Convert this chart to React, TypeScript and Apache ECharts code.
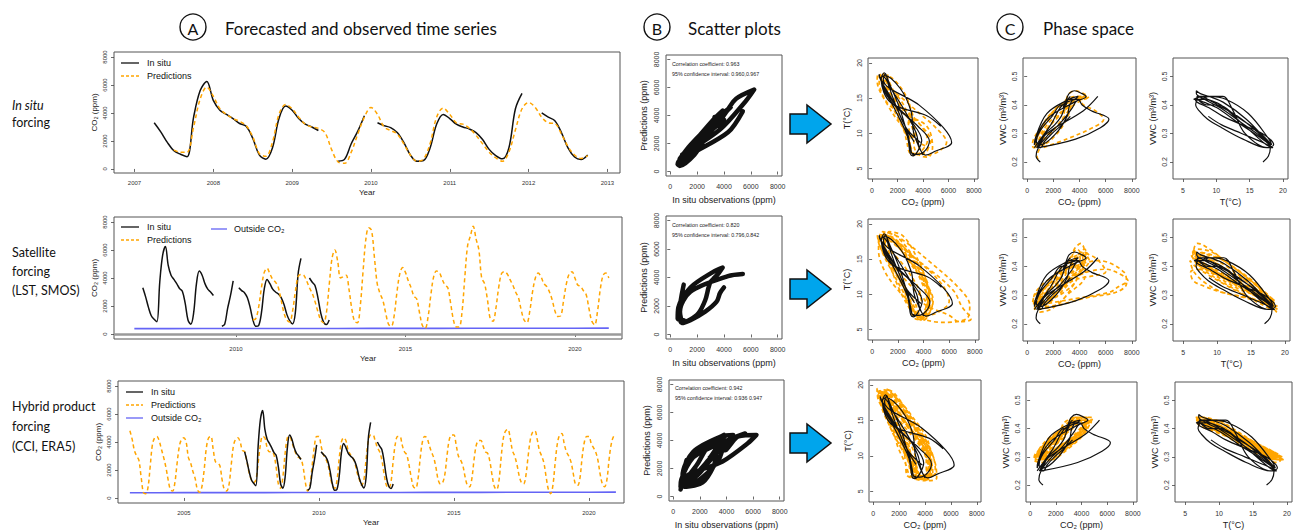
import React, { useEffect, useRef } from "react";
import * as echarts from "echarts";

// ---------- DATA (monthly, first of month) ----------
const INSITU_START = 2007.25; // April 2007
const SAT_START = 2010.5; // July 2010
const HYB_START = 2003.0; // January 2003

// In situ CO2 (ppm), Apr 2007 - Oct 2012 (null = gap)
const insituCO2 = [
  3300, 2650, 1900, 1300, 1050, 880, 3700, 5600, 6250,
  4900, 4200, 3900, 3600, 3250, 3050, 2200, 1000, 700, 1500, 3600, 4500,
  4200, 3600, 3200, 3000, 2750, null, null, 550, 700, 1800, 2700, 3800,
  null, 3300, 3100, 2950, 2600, 1900, 1000, 550, 600, 1500, 3200, 3900,
  3600, 3200, 3000, 2850, 2600, 2100, 1400, 950, 720, 1500, 4300, 5400,
  null, null, 4000, 3700, 3450, 2600, 1500, 850, 680, 1000,
];
// In situ soil temperature (deg C)
const insituT = [
  8.8, 10.8, 13.8, 16.8, 18.5, 17.6, 14.0, 10.8, 8.7,
  7.4, 6.9, 7.3, 8.4, 10.2, 13.2, 16.4, 18.2, 17.8, 14.5, 11.0, 8.9,
  7.6, 7.0, 7.0, 8.2, 10.6, 13.6, 16.6, 18.4, 17.5, 14.1, 10.7, 8.7,
  7.8, 7.1, 7.2, 8.6, 10.4, 13.0, 16.2, 18.3, 17.9, 14.8, 11.4, 9.0,
  7.5, 6.8, 7.1, 8.9, 11.0, 13.9, 16.9, 18.6, 17.7, 14.3, 12.5, 11.0,
  8.0, 6.6, 6.9, 8.1, 10.1, 13.1, 16.3, 18.1, 17.8, 17.0,
];
// In situ soil water content (m3/m3)
const insituVWC = [
  0.36, 0.33, 0.30, 0.27, 0.25, 0.25, 0.28, 0.32, 0.35,
  0.38, 0.40, 0.42, 0.42, 0.40, 0.36, 0.30, 0.26, 0.27, 0.35, 0.41, 0.43,
  0.44, 0.45, 0.44, 0.42, 0.39, 0.34, 0.29, 0.25, 0.26, 0.33, 0.40, 0.42,
  0.43, 0.43, 0.42, 0.40, 0.40, 0.36, 0.31, 0.26, 0.28, 0.37, 0.42, 0.43,
  0.42, 0.42, 0.41, 0.39, 0.36, 0.33, 0.30, 0.26, 0.25, 0.30, 0.38, 0.43,
  0.43, 0.42, 0.42, 0.41, 0.39, 0.34, 0.29, 0.25, 0.22, 0.20,
];
// Predictions with in situ forcing, Apr 2007 - Oct 2012
const predInSitu = [
  null, null, null, 1350, 1200, 1200, 3000, 5000, 5850,
  5200, 4300, 3900, 3600, 3400, 3100, 2300, 1100, 900, 1900, 3900, 4600,
  4300, 3700, 3200, 3000, 2900, 2600, 1400, 500, 400, 1200, 2500, 3700,
  4400, 3900, 3000, 2750, 2500, 1800, 1000, 550, 700, 1800, 3700, 4350,
  3900, 3300, 3200, 2900, 2400, 1800, 1200, 800, 550, 1200, 2800, 4300,
  4750, 4400, 3700, 3300, 3250, 2500, 1600, 1000, 750, 950,
];
// Predictions with satellite forcing (LST, SMOS), Jul 2010 - Jan 2021
const predSat = [
  1000, 1100, 1900, 3300, 4400, 4700,
  4300, 3900, 3700, 3300, 2400, 1500, 1000, 850, 1600, 3000, 4100, 4250,
  4200, 3800, 3300, 2900, 2300, 1600, 1000, 800, 1500, 3500, 5400, 6000,
  5200, 4000, 4100, 4200, 3200, 1800, 900, 800, 2000, 4500, 6800, 7600,
  7400, 5500, 3600, 2900, 2400, 1500, 700, 550, 1300, 3000, 4300, 4750,
  4400, 3800, 3300, 2700, 2500, 1500, 600, 400, 1200, 2800, 4100, 4500,
  4400, 3900, 3500, 3300, 2200, 1000, 500, 500, 1500, 4000, 6300, 7000,
  7700, 6800, 6000, 4000, 3600, 2500, 1100, 900, 1800, 3300, 4300, 4450,
  4300, 3900, 3500, 3000, 2600, 1700, 1000, 800, 1600, 3000, 4000, 4350,
  4100, 3600, 3400, 3000, 2400, 1600, 1250, 1300, 2400, 3600, 4300, 4450,
  4000, 3500, 3400, 3100, 2800, 1800, 900, 650, 1600, 3200, 4200, 4350,
  4000,
];
// Satellite land surface temperature (deg C), Jul 2010 - Jan 2021
const satT = [
  16.2, 18.0, 17.6, 14.4, 10.9, 8.7,
  6.8, 6.2, 6.9, 8.9, 11.2, 14.1, 17.0, 18.6, 17.9, 14.3, 11.2, 8.6,
  7.2, 6.4, 6.6, 8.0, 10.0, 13.0, 16.2, 18.4, 18.1, 14.9, 11.5, 9.0,
  7.5, 6.8, 7.2, 8.6, 10.8, 13.8, 16.9, 18.9, 18.2, 14.6, 10.8, 8.4,
  6.6, 6.0, 6.8, 8.4, 10.4, 13.4, 16.4, 18.0, 17.7, 14.8, 11.3, 9.1,
  7.3, 6.9, 7.5, 9.0, 11.0, 14.0, 16.8, 18.5, 18.2, 15.0, 11.6, 9.2,
  7.0, 6.3, 6.7, 8.2, 10.2, 13.2, 16.3, 18.2, 17.6, 14.2, 10.6, 8.2,
  6.5, 6.1, 7.0, 8.7, 10.9, 14.0, 17.1, 18.8, 18.4, 15.1, 11.7, 9.3,
  7.6, 7.0, 7.3, 8.5, 10.6, 13.6, 16.7, 18.5, 18.0, 14.7, 11.1, 8.9,
  7.1, 6.6, 7.1, 8.8, 11.1, 14.2, 17.2, 18.9, 18.3, 14.8, 11.4, 9.0,
  7.2, 6.7, 6.9, 8.3, 10.3, 13.3, 16.6, 18.4, 18.1, 15.0, 11.6, 9.2,
  7.4,
];
// Satellite soil moisture (SMOS), Jul 2010 - Jan 2021
const satVWC = [
  0.32, 0.27, 0.29, 0.36, 0.42, 0.44,
  0.45, 0.44, 0.42, 0.40, 0.37, 0.33, 0.29, 0.26, 0.27, 0.33, 0.39, 0.43,
  0.44, 0.46, 0.43, 0.41, 0.38, 0.34, 0.30, 0.27, 0.28, 0.35, 0.37, 0.38,
  0.43, 0.45, 0.41, 0.39, 0.36, 0.32, 0.28, 0.25, 0.26, 0.29, 0.31, 0.34,
  0.38, 0.42, 0.40, 0.38, 0.35, 0.31, 0.27, 0.25, 0.27, 0.34, 0.39, 0.42,
  0.44, 0.43, 0.41, 0.39, 0.36, 0.33, 0.30, 0.27, 0.28, 0.35, 0.41, 0.45,
  0.46, 0.44, 0.42, 0.40, 0.37, 0.33, 0.29, 0.26, 0.27, 0.29, 0.31, 0.33,
  0.35, 0.38, 0.39, 0.37, 0.34, 0.30, 0.27, 0.24, 0.25, 0.31, 0.35, 0.38,
  0.41, 0.42, 0.40, 0.39, 0.37, 0.34, 0.31, 0.28, 0.29, 0.36, 0.42, 0.46,
  0.48, 0.46, 0.43, 0.40, 0.36, 0.32, 0.28, 0.26, 0.27, 0.34, 0.40, 0.43,
  0.44, 0.43, 0.41, 0.39, 0.36, 0.32, 0.29, 0.26, 0.28, 0.35, 0.41, 0.44,
  0.45,
];
// Predictions with hybrid product forcing (CCI, ERA5), Jan 2003 - Jan 2021
const predHybrid = [
  4800, 4200, 3400, 3000, 2700, 1500, 400, 300, 700, 2200, 3800, 4300,
  4400, 4100, 3500, 2900, 2200, 1300, 600, 500, 1100, 2500, 3700, 4200,
  4300, 4000, 2900, 2500, 1900, 1400, 600, 400, 800, 2000, 3600, 4300,
  4400, 3500, 2600, 2500, 2300, 1300, 600, 500, 900, 2300, 3700, 4200,
  4300, 4000, 3400, 3300, 2600, 1800, 1300, 1100, 1300, 2500, 3800, 4400,
  4300, 3600, 3300, 3300, 3100, 2200, 1000, 700, 1500, 3200, 4300, 4400,
  4000, 3500, 3100, 2900, 2800, 2200, 1100, 500, 900, 2300, 3700, 4400,
  4400, 3700, 3100, 2800, 2400, 1600, 900, 700, 1200, 2800, 4000, 4300,
  4100, 3400, 3100, 2900, 2500, 1800, 1300, 900, 1300, 2800, 4100, 4500,
  4500, 4100, 3600, 3300, 2700, 1700, 900, 700, 1100, 2600, 3900, 4400,
  4400, 3800, 3300, 3100, 2400, 1500, 800, 700, 1300, 2800, 4000, 4400,
  4300, 3800, 3300, 2900, 2200, 1300, 1000, 1100, 1700, 3100, 4200, 4500,
  4500, 3800, 3000, 2700, 2300, 1500, 900, 800, 1400, 2800, 3800, 4100,
  4100, 3700, 3300, 3200, 2600, 1600, 800, 600, 1200, 2900, 4300, 4800,
  4900, 4300, 3400, 3000, 2400, 1600, 1100, 1000, 1600, 3000, 4200, 4700,
  4800, 4200, 3400, 3000, 2500, 1500, 600, 300, 900, 2500, 3900, 4500,
  4600, 3900, 3300, 3000, 2600, 1800, 1000, 900, 1400, 2900, 4000, 4400,
  4400, 3900, 3600, 3300, 2700, 1700, 1000, 800, 1300, 2800, 3900, 4400,
  4500,
];
// ERA5 soil temperature (deg C), Jan 2003 - Jan 2021
const hybT = [
  7.4, 6.9, 7.6, 9.3, 11.6, 14.8, 17.9, 19.5, 18.9, 15.2, 11.6, 9.3,
  7.1, 6.6, 7.2, 8.8, 11.0, 14.1, 17.1, 18.9, 18.5, 14.8, 11.3, 9.0,
  7.0, 6.5, 7.1, 8.9, 11.3, 14.5, 17.5, 19.2, 18.8, 15.1, 11.4, 9.1,
  7.3, 6.8, 7.3, 9.0, 11.1, 14.4, 17.6, 19.3, 18.7, 15.3, 11.8, 9.5,
  7.6, 7.1, 7.5, 9.1, 11.0, 14.0, 16.9, 18.6, 18.3, 14.8, 11.4, 9.2,
  7.3, 6.9, 7.2, 8.7, 10.8, 13.8, 17.0, 18.7, 18.5, 15.1, 11.7, 9.4,
  7.5, 7.0, 7.1, 8.6, 11.1, 14.2, 17.2, 18.9, 18.4, 14.9, 11.6, 9.6,
  7.7, 7.2, 7.3, 8.9, 10.9, 13.7, 16.9, 18.8, 18.6, 15.4, 12.0, 9.7,
  7.4, 6.8, 7.2, 9.2, 11.4, 14.5, 17.5, 19.1, 18.5, 14.7, 11.3, 9.2,
  7.2, 6.6, 7.0, 8.5, 10.7, 13.9, 17.0, 18.7, 18.4, 15.6, 11.9, 9.5,
  7.5, 7.0, 7.4, 9.0, 11.2, 14.3, 17.4, 19.2, 18.7, 14.9, 11.4, 9.1,
  7.1, 6.7, 7.3, 8.9, 11.0, 14.1, 17.1, 18.8, 18.4, 15.0, 11.7, 9.4,
  7.4, 7.0, 7.5, 9.2, 11.4, 14.6, 17.6, 19.3, 18.9, 15.2, 11.5, 9.2,
  7.2, 6.7, 7.1, 8.7, 10.9, 14.0, 17.2, 18.9, 18.3, 14.7, 11.2, 8.9,
  6.9, 6.5, 7.2, 9.0, 11.3, 14.6, 17.7, 19.4, 18.9, 15.3, 11.8, 9.5,
  7.6, 7.1, 7.4, 8.9, 11.0, 14.2, 17.4, 19.1, 18.6, 14.8, 11.3, 9.1,
  7.3, 6.9, 7.3, 9.1, 11.5, 14.7, 17.8, 19.5, 19.0, 15.2, 11.6, 9.3,
  7.4, 6.9, 7.2, 8.8, 11.0, 14.2, 17.3, 19.0, 18.7, 15.1, 11.7, 9.4,
  7.5,
];
// CCI soil moisture, Jan 2003 - Jan 2021
const hybVWC = [
  0.42, 0.43, 0.42, 0.40, 0.37, 0.34, 0.31, 0.29, 0.29, 0.32, 0.37, 0.41,
  0.43, 0.44, 0.43, 0.41, 0.39, 0.36, 0.32, 0.30, 0.30, 0.34, 0.39, 0.42,
  0.43, 0.43, 0.42, 0.40, 0.38, 0.35, 0.31, 0.29, 0.30, 0.33, 0.38, 0.42,
  0.44, 0.44, 0.42, 0.41, 0.39, 0.35, 0.32, 0.30, 0.30, 0.34, 0.38, 0.41,
  0.42, 0.42, 0.41, 0.40, 0.38, 0.35, 0.32, 0.30, 0.31, 0.34, 0.38, 0.41,
  0.43, 0.44, 0.43, 0.42, 0.40, 0.37, 0.33, 0.31, 0.31, 0.35, 0.40, 0.43,
  0.44, 0.44, 0.43, 0.41, 0.38, 0.35, 0.31, 0.29, 0.29, 0.33, 0.38, 0.42,
  0.43, 0.43, 0.42, 0.41, 0.39, 0.36, 0.33, 0.30, 0.31, 0.35, 0.40, 0.43,
  0.43, 0.42, 0.41, 0.39, 0.37, 0.34, 0.31, 0.29, 0.29, 0.33, 0.38, 0.42,
  0.43, 0.43, 0.42, 0.40, 0.38, 0.35, 0.32, 0.30, 0.30, 0.34, 0.39, 0.42,
  0.44, 0.44, 0.43, 0.41, 0.39, 0.36, 0.32, 0.30, 0.30, 0.34, 0.39, 0.43,
  0.44, 0.43, 0.42, 0.40, 0.38, 0.35, 0.32, 0.30, 0.31, 0.35, 0.40, 0.43,
  0.43, 0.43, 0.42, 0.40, 0.37, 0.34, 0.31, 0.29, 0.29, 0.33, 0.38, 0.41,
  0.42, 0.43, 0.42, 0.41, 0.39, 0.36, 0.32, 0.30, 0.30, 0.34, 0.39, 0.43,
  0.44, 0.44, 0.42, 0.40, 0.38, 0.35, 0.31, 0.29, 0.29, 0.33, 0.38, 0.42,
  0.43, 0.43, 0.42, 0.41, 0.39, 0.36, 0.32, 0.29, 0.28, 0.32, 0.37, 0.41,
  0.43, 0.44, 0.43, 0.41, 0.38, 0.35, 0.31, 0.29, 0.29, 0.33, 0.38, 0.42,
  0.43, 0.43, 0.42, 0.40, 0.38, 0.35, 0.32, 0.30, 0.30, 0.34, 0.39, 0.42,
  0.43,
];
// Outside (atmospheric) CO2, annual
const outsideYears = [2003, 2004, 2005, 2006, 2007, 2008, 2009, 2010, 2011, 2012, 2013, 2014, 2015, 2016, 2017, 2018, 2019, 2020, 2021];
const outsideCO2 = [376, 378, 380, 382, 384, 386, 387, 390, 392, 394, 397, 399, 401, 404, 407, 409, 412, 414, 416];

// Tick labels
const yearTicksA1 = [2007, 2008, 2009, 2010, 2011, 2012, 2013];
const yearTicksA2 = [2010, 2015, 2020];
const yearTicksA3 = [2005, 2010, 2015, 2020];
const co2Ticks = [0, 2000, 4000, 6000, 8000];
const tempTicks = [5, 10, 15, 20];
const vwcTicks = [0.2, 0.3, 0.4, 0.5];

const corrTexts = [
  ["Correlation coefficient: 0.963", "95% confidence interval: 0.960,0.967"],
  ["Correlation coefficient: 0.820", "95% confidence interval: 0.796,0.842"],
  ["Correlation coefficient: 0.942", "95% confidence interval: 0.936 0.947"],
];

// ---------- STYLE ----------
const AX_FONT = '"Liberation Sans", Arial, Helvetica, sans-serif';
const CAL_FONT = 'Lato, "Open Sans", sans-serif';
const ORANGE = "#FFA500";
const BLACK = "#111111";
const BLUE = "#6464F5";
const EMPTY = "-";

function timeSeries(start: number, values: (number | null)[]) {
  return values.map((v, i) => [start + i / 12, v == null ? EMPTY : v]);
}
function pairSeries(xs: (number | null)[], ys: (number | null)[], offset = 0) {
  return xs.map((x, i) => {
    const y = ys[i + offset];
    return x == null || y == null ? [EMPTY, EMPTY] : [x, y];
  });
}

function buildOption() {
  const grid: any[] = [];
  const xAxis: any[] = [];
  const yAxis: any[] = [];
  const series: any[] = [];
  const graphic: any[] = [];

  const axis = (min: number, max: number, ticks: number[], o: any) => ({
    type: "value",
    min,
    max,
    axisLine: { show: false },
    axisTick: { show: true, inside: false, length: 3, lineStyle: { color: "#444", width: 0.8 }, customValues: ticks },
    axisLabel: {
      show: true,
      customValues: ticks,
      formatter: o.fmt || ((v: number) => String(v)),
      fontSize: o.fs || 7,
      color: "#333",
      fontFamily: AX_FONT,
      margin: o.margin,
      rotate: o.rotate || 0,
    },
    splitLine: { show: false },
    name: o.name,
    nameLocation: "middle",
    nameGap: o.nameGap,
    nameTextStyle: { fontSize: o.nameSize || 9, color: "#222", fontFamily: AX_FONT },
  });

  const panel = (box: number[], xa: any, ya: any) => {
    const gi = grid.length;
    grid.push({ left: box[0], top: box[1], width: box[2], height: box[3], show: true, borderColor: "#555", borderWidth: 1, backgroundColor: "transparent" });
    xAxis.push({ ...xa, gridIndex: gi });
    yAxis.push({ ...ya, gridIndex: gi });
    return gi;
  };

  const line = (gi: number, data: any[], style: any, extra: any = {}) => {
    series.push({
      type: "line",
      xAxisIndex: gi,
      yAxisIndex: gi,
      data,
      showSymbol: false,
      symbol: "none",
      smooth: 0.35,
      connectNulls: false,
      clip: true,
      silent: true,
      lineStyle: style,
      ...extra,
    });
  };

  const blackTS = { color: BLACK, width: 1.5 };
  const orangeTS = { color: ORANGE, width: 1.5, type: [4, 3] };
  const blueTS = { color: BLUE, width: 1.6 };

  // ---- Column A: time series ----
  const tsY = (min: number) => axis(min, 8360, co2Ticks, { fs: 6, margin: 6, rotate: 90, name: "CO₂ (ppm)", nameGap: 16, nameSize: 8 });
  const tsBoxes = [[114, 52, 506, 121], [114, 217, 508, 122], [118, 381, 506, 122]];
  const tsX = [
    axis(2006.74, 2013.16, yearTicksA1, { fs: 6, margin: 7, name: "Year", nameGap: 15, nameSize: 8 }),
    axis(2006.4, 2021.39, yearTicksA2, { fs: 6, margin: 7, name: "Year", nameGap: 15, nameSize: 8 }),
    axis(2002.56, 2021.3, yearTicksA3, { fs: 6, margin: 7, name: "Year", nameGap: 15, nameSize: 8 }),
  ];
  const a1 = panel(tsBoxes[0], tsX[0], tsY(-290));
  const a2 = panel(tsBoxes[1], tsX[1], tsY(-360));
  const a3 = panel(tsBoxes[2], tsX[2], tsY(-360));

  line(a1, timeSeries(INSITU_START, insituCO2), blackTS);
  line(a1, timeSeries(INSITU_START, predInSitu), orangeTS);

  const outside = outsideYears.map((y, i) => [y, outsideCO2[i]]);
  line(a2, outside.filter((p) => p[0] >= 2007), blueTS, {
    smooth: false,
    step: "end",
    markLine: { silent: true, symbol: "none", label: { show: false }, lineStyle: { color: "#9a9a9a", width: 2.5, type: "solid" }, data: [{ yAxis: 0 }] },
  });
  line(a2, timeSeries(INSITU_START, insituCO2), blackTS);
  line(a2, timeSeries(SAT_START, predSat), orangeTS);

  line(a3, outside, blueTS, { smooth: false, step: "end" });
  line(a3, timeSeries(HYB_START, predHybrid), orangeTS);
  line(a3, timeSeries(INSITU_START, insituCO2), blackTS);

  // ---- Column B: scatter plots ----
  const scBoxes = [[666, 55, 116, 121], [666, 216, 116, 123], [669, 380, 115, 122]];
  const scX = () => axis(-320, 8320, co2Ticks, { fs: 7, margin: 7, name: "In situ observations (ppm)", nameGap: 19 });
  const scY = () => axis(-320, 8320, co2Ticks, { fs: 7, margin: 6, rotate: 90, name: "Predictions (ppm)", nameGap: 18 });
  const offSat = Math.round((INSITU_START - SAT_START) * 12);
  const offHyb = Math.round((INSITU_START - HYB_START) * 12);
  const scatterPairs = [
    pairSeries(insituCO2, predInSitu, 0),
    pairSeries(insituCO2, predSat, offSat),
    pairSeries(insituCO2, predHybrid, offHyb),
  ];
  const thick = { color: BLACK, width: 4.5, cap: "round", join: "round" };
  scBoxes.forEach((b, r) => {
    const gi = panel(b, scX(), scY());
    line(gi, scatterPairs[r], thick, { smooth: 0.3 });
  });

  // ---- Column C: phase space ----
  const tBoxes = [[868, 58, 110, 121], [868, 219, 111, 121], [869, 380, 112, 122]];
  const vBoxes = [[1023, 58, 113, 121], [1023, 219, 113, 122], [1026, 382, 111, 120]];
  const wBoxes = [[1173, 58, 115, 121], [1173, 219, 117, 122], [1175, 382, 117, 120]];
  const co2X = () => axis(-320, 8320, co2Ticks, { fs: 7, margin: 8, name: "CO₂ (ppm)", nameGap: 18 });
  const tY = () => axis(3.5, 20.7, tempTicks, { fs: 7, margin: 5, rotate: 90, name: "T(°C)", nameGap: 17 });
  const vY = () => axis(0.14, 0.565, vwcTicks, { fs: 7, margin: 5, rotate: 90, name: "VWC (m³/m³)", nameGap: 16, fmt: (v: number) => v.toFixed(1) });
  const tX = () => axis(3.5, 20.75, tempTicks, { fs: 7, margin: 8, name: "T(°C)", nameGap: 18 });

  const blackPh = { color: BLACK, width: 1.2 };
  const orangePh = { color: ORANGE, width: 1.7, type: [4, 3] };

  const orangeT = [
    pairSeries(predInSitu, insituT),
    pairSeries(predSat, satT),
    pairSeries(predHybrid, hybT),
  ];
  const orangeV = [
    pairSeries(predInSitu, insituVWC),
    pairSeries(predSat, satVWC),
    pairSeries(predHybrid, hybVWC),
  ];
  const orangeW = [null, pairSeries(satT, satVWC), pairSeries(hybT, hybVWC)];

  for (let r = 0; r < 3; r++) {
    const gt = panel(tBoxes[r], co2X(), tY());
    line(gt, orangeT[r], orangePh);
    line(gt, pairSeries(insituCO2, insituT), blackPh);

    const gv = panel(vBoxes[r], co2X(), vY());
    line(gv, orangeV[r], orangePh);
    line(gv, pairSeries(insituCO2, insituVWC), blackPh);

    const gw = panel(wBoxes[r], tX(), vY());
    if (orangeW[r]) line(gw, orangeW[r] as any[], orangePh);
    line(gw, pairSeries(insituT, insituVWC), blackPh);
  }

  // ---- Graphics: titles, labels, legends, arrows ----
  const text = (x: number, y: number, t: string, fontSize: number, o: any = {}) =>
    graphic.push({
      type: "text",
      x,
      y,
      silent: true,
      z: 10,
      style: {
        text: t,
        fontSize,
        fontFamily: o.family || AX_FONT,
        fontStyle: o.italic ? "italic" : "normal",
        fill: o.fill || "#111",
        align: o.align || "left",
        verticalAlign: "middle",
      },
    });
  const circ = (cx: number, cy: number, letter: string) => {
    graphic.push({ type: "circle", silent: true, z: 10, shape: { cx, cy, r: 13 }, style: { fill: "none", stroke: "#111", lineWidth: 1.4 } });
    text(cx, cy + 1, letter, 16, { family: CAL_FONT, align: "center" });
  };
  circ(193, 27, "A");
  text(225, 28, "Forecasted and observed time series", 17, { family: CAL_FONT });
  circ(657, 27, "B");
  text(688, 28, "Scatter plots", 17, { family: CAL_FONT });
  circ(1010, 27, "C");
  text(1043, 28, "Phase space", 17, { family: CAL_FONT });

  // row labels
  text(12, 105, "In situ", 12.5, { family: CAL_FONT, italic: true });
  text(12, 122, "forcing", 12.5, { family: CAL_FONT });
  text(12, 252, "Satellite", 12.5, { family: CAL_FONT });
  text(12, 271, "forcing", 12.5, { family: CAL_FONT });
  text(12, 290, "(LST, SMOS)", 12.5, { family: CAL_FONT });
  text(12, 406, "Hybrid product", 12.5, { family: CAL_FONT });
  text(12, 426, "forcing", 12.5, { family: CAL_FONT });
  text(12, 446, "(CCI, ERA5)", 12.5, { family: CAL_FONT });

  // legends
  const legLine = (x1: number, x2: number, y: number, stroke: string, dash?: number[]) =>
    graphic.push({ type: "line", silent: true, z: 10, shape: { x1, y1: y, x2, y2: y }, style: { stroke, lineWidth: 1.3, lineDash: dash || null } });
  legLine(121, 139, 63, BLACK);
  text(147, 63, "In situ", 9);
  legLine(121, 139, 76, ORANGE, [3, 2]);
  text(147, 76, "Predictions", 9);

  legLine(121, 139, 227, BLACK);
  text(147, 227, "In situ", 9);
  legLine(121, 139, 240, ORANGE, [3, 2]);
  text(147, 240, "Predictions", 9);
  legLine(211, 227, 229, BLUE);
  text(234, 229, "Outside CO₂", 9);

  legLine(126, 143, 392, BLACK);
  text(151, 392, "In situ", 9);
  legLine(126, 143, 405, ORANGE, [3, 2]);
  text(151, 405, "Predictions", 9);
  legLine(126, 143, 418, BLUE);
  text(151, 418, "Outside CO₂", 9);

  // correlation texts
  const corrPos = [[672, 64], [672, 225], [675, 388]];
  corrTexts.forEach((c, r) => {
    text(corrPos[r][0], corrPos[r][1], c[0], 5.3, { fill: "#222" });
    text(corrPos[r][0], corrPos[r][1] + 10, c[1], 5.3, { fill: "#222" });
  });

  // arrows
  [124, 289, 443].forEach((cy) => {
    graphic.push({
      type: "polygon",
      silent: true,
      z: 10,
      shape: {
        points: [
          [790, cy - 10], [807, cy - 10], [807, cy - 19], [831, cy],
          [807, cy + 19], [807, cy + 10], [790, cy + 10],
        ],
      },
      style: { fill: "#00A5EC", stroke: "#111", lineWidth: 1.5 },
    });
  });

  return {
    animation: false,
    backgroundColor: "#ffffff",
    grid,
    xAxis,
    yAxis,
    series,
    graphic,
  };
}

export default function App() {
  const ref = useRef<HTMLDivElement>(null);
  useEffect(() => {
    document.body.style.margin = "0";
    const chart = echarts.init(ref.current as HTMLDivElement, null, { renderer: "svg" });
    chart.setOption(buildOption() as any);
    return () => chart.dispose();
  }, []);
  return <div ref={ref} style={{ position: "absolute", left: 0, top: 0, width: 1301, height: 530, background: "#fff" }} />;
}
